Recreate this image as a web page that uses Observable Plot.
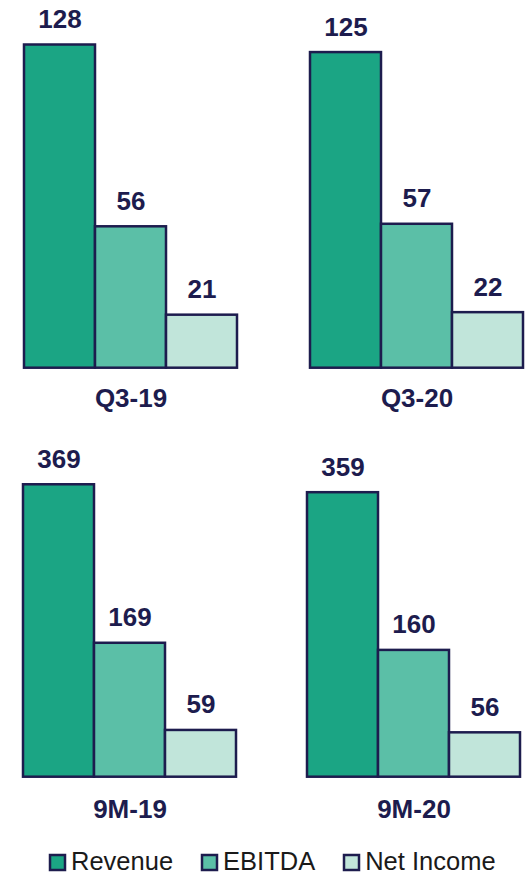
<!DOCTYPE html>
<html><head><meta charset="utf-8">
<script src="https://cdn.jsdelivr.net/npm/d3@7"></script>
<script src="https://cdn.jsdelivr.net/npm/@observablehq/plot@0.6"></script>
<style>
body{margin:0;background:#fff;}
#chart{position:relative;width:527px;height:875px;overflow:hidden;font-family:"Liberation Sans",Arial,sans-serif;}
.panel{position:absolute;}
#legend{position:absolute;left:50px;top:849px;width:477px;white-space:nowrap;}
.lg-swatches{font-family:"Liberation Sans",Arial,sans-serif !important;font-size:25.5px !important;color:#1a1a1a !important;min-height:0 !important;margin:0 !important;line-height:24px;flex-wrap:nowrap !important;white-space:nowrap !important;}
.lg-swatch{margin-right:29px !important;white-space:nowrap !important;}
.lg-swatch>svg{margin-right:6px !important;overflow:visible !important;flex-shrink:0;position:relative;top:1px;}
</style></head><body><div id="chart"><div id="legend"></div></div>
<script>
// ---- data ----
const series = ["Revenue", "EBITDA", "Net Income"];
const colors = ["#1ba584", "#5bbfa7", "#c1e5da"];
const periods = ["Q3-19", "Q3-20", "9M-19", "9M-20"];
const revenue = [128, 125, 369, 359];
const ebitda = [56, 57, 169, 160];
const netIncome = [21, 22, 59, 56];

// ---- layout (not data) ----
const navy = "#1d1c4e";
const font = "Liberation Sans, Arial, sans-serif";
const layout = [
  {left: 0,   top: 0,   width: 263, height: 420, x0: 22.7, x1: 237.7, base: 367.7, k: 2.525, labelDy: 39},
  {left: 263, top: 0,   width: 264, height: 420, x0: 46.3, x1: 261,   base: 367.7, k: 2.525, labelDy: 39},
  {left: 0,   top: 420, width: 263, height: 425, x0: 22.3, x1: 236,   base: 356.7, k: 0.7925, labelDy: 40.5},
  {left: 263, top: 420, width: 264, height: 425, x0: 43,   x1: 257,   base: 356.7, k: 0.7925, labelDy: 40.5}
];

const chart = document.getElementById("chart");

periods.forEach((period, i) => {
  const L = layout[i];
  const rows = [
    {series: series[0], value: revenue[i]},
    {series: series[1], value: ebitda[i]},
    {series: series[2], value: netIncome[i]}
  ];
  const svg = Plot.plot({
    width: L.width,
    height: L.height,
    margin: 0,
    style: {fontFamily: font, background: "transparent", overflow: "visible"},
    x: {domain: series, range: [L.x0, L.x1], padding: 0, axis: null},
    y: {domain: [0, 100], range: [L.base, L.base - 100 * L.k], axis: null},
    color: {domain: series, range: colors},
    marks: [
      Plot.barY(rows, {x: "series", y: "value", fill: "series", stroke: navy, strokeWidth: 2.5}),
      Plot.text(rows, {x: "series", y: "value", text: d => String(d.value), dy: -17, lineAnchor: "bottom",
        fontSize: 26, fontWeight: "bold", fill: navy}),
      Plot.text([period], {x: () => series[1], y: () => 0, text: d => d, dy: L.labelDy, lineAnchor: "bottom",
        fontSize: 26, fontWeight: "bold", fill: navy})
    ]
  });
  svg.classList.add("panel");
  svg.style.left = L.left + "px";
  svg.style.top = L.top + "px";
  chart.appendChild(svg);
});

const legend = Plot.legend({
  color: {domain: series, range: colors},
  legend: "swatches",
  swatchSize: 15,
  className: "lg"
});
legend.querySelectorAll("svg rect").forEach(r => {
  r.setAttribute("stroke", navy);
  r.setAttribute("stroke-width", 2.5);
});
document.getElementById("legend").appendChild(legend);
</script>
</body></html>
